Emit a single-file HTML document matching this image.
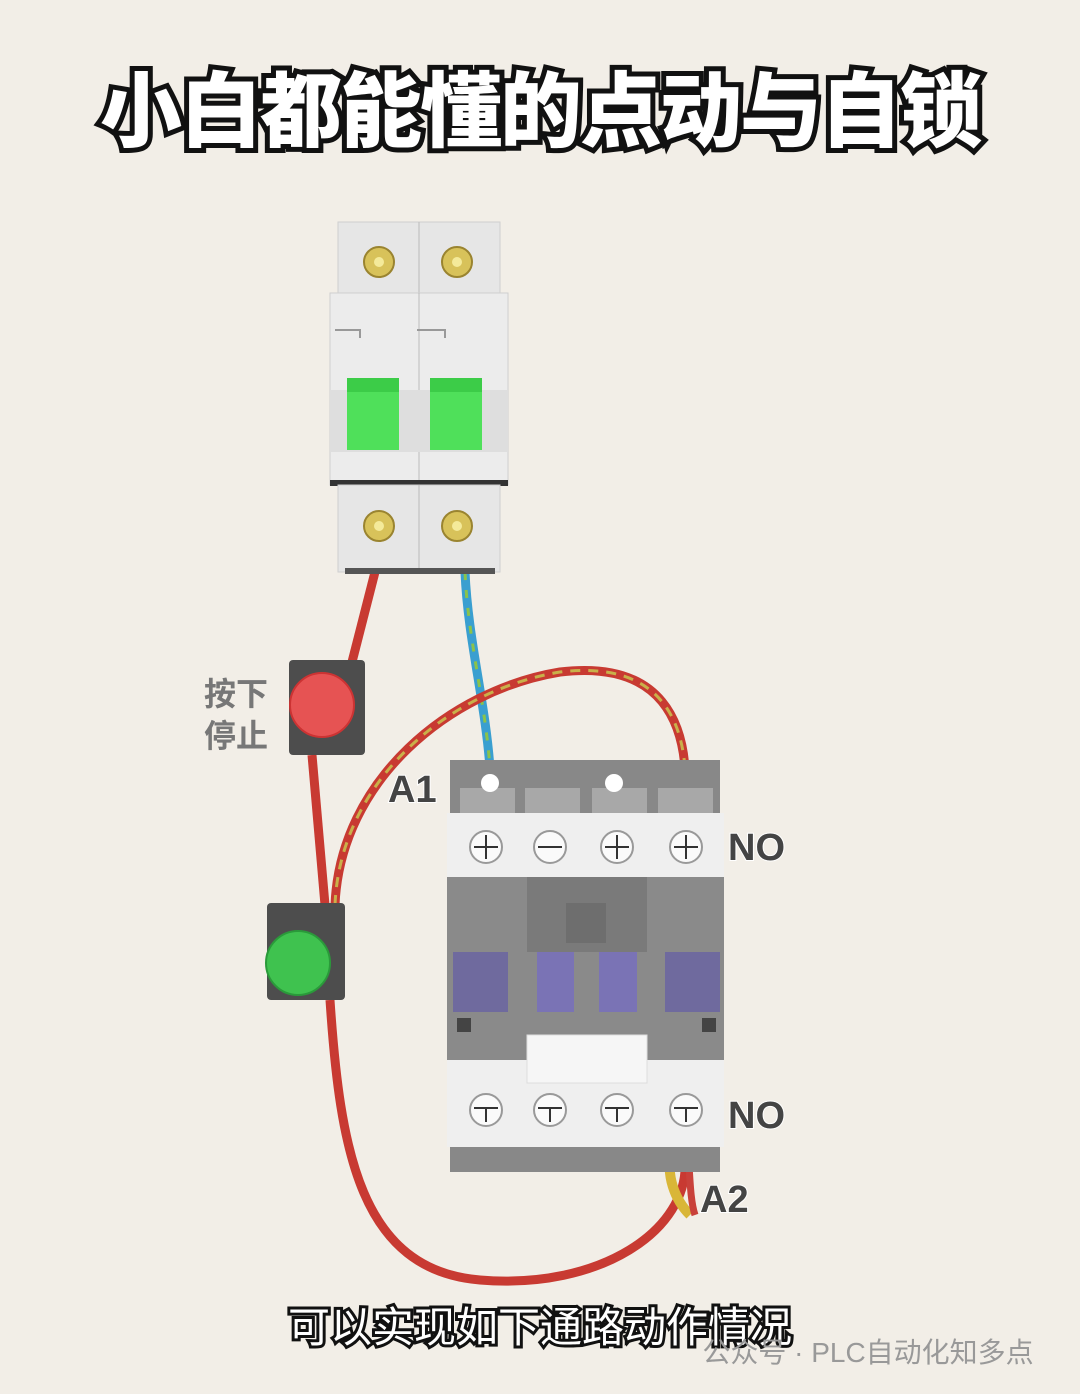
<!DOCTYPE html>
<html><head><meta charset="utf-8"><style>
html,body{margin:0;padding:0;background:#f2eee7;}
svg{display:block;}
text{font-family:"Liberation Sans","Noto Sans CJK SC",sans-serif;}
</style></head><body>
<svg width="1080" height="1394" viewBox="0 0 1080 1394" xmlns="http://www.w3.org/2000/svg">
<rect width="1080" height="1394" fill="#f2eee7"/>
<text x="540" y="140" text-anchor="middle" font-size="82" font-weight="900" fill="#fff" stroke="#111" stroke-width="10" paint-order="stroke" letter-spacing="-2">小白都能懂的点动与自锁</text>

<path d="M375 572 L352 662" stroke="#c83a32" stroke-width="9" fill="none"/>
<path d="M465 572 C468 640 485 700 490 768" stroke="#3a9fd0" stroke-width="9" fill="none"/>
<path d="M465 572 C468 640 485 700 490 768" stroke="#8bc34a" stroke-width="3" stroke-dasharray="8 10" fill="none"/>
<path d="M312 755 L325 905" stroke="#c83a32" stroke-width="9" fill="none"/>
<path d="M330 1000 C340 1150 360 1270 480 1280 C600 1290 690 1230 685 1160" stroke="#c83a32" stroke-width="9" fill="none"/>
<path d="M335 905 C340 780 450 690 560 672 C660 660 690 720 685 800" stroke="#c83a32" stroke-width="9" fill="none"/>
<path d="M335 905 C340 780 450 690 560 672 C660 660 690 720 685 800" stroke="#c9b04a" stroke-width="3" stroke-dasharray="10 8" fill="none"/>
<path d="M672 1150 C665 1175 675 1200 690 1215" stroke="#d9b638" stroke-width="10" fill="none"/>
<path d="M688 1150 C690 1175 690 1200 695 1215" stroke="#c9413a" stroke-width="7" fill="none"/>

<rect x="338" y="222" width="162" height="75" fill="#e6e6e6" stroke="#cfcfcf"/>
<line x1="419" y1="222" x2="419" y2="297" stroke="#bbb"/>
<rect x="330" y="293" width="178" height="192" fill="#ececec" stroke="#cfcfcf"/>
<line x1="419" y1="293" x2="419" y2="485" stroke="#bbb"/>
<rect x="330" y="390" width="178" height="62" fill="#dedede"/>
<path d="M335 330 H360 V338" stroke="#999" fill="none" stroke-width="2"/>
<path d="M417 330 H445 V338" stroke="#999" fill="none" stroke-width="2"/>
<rect x="347" y="378" width="52" height="72" fill="#4fe05a"/>
<rect x="347" y="378" width="52" height="14" fill="#3ccc48"/>
<rect x="430" y="378" width="52" height="72" fill="#4fe05a"/>
<rect x="430" y="378" width="52" height="14" fill="#3ccc48"/>
<rect x="330" y="480" width="178" height="6" fill="#333"/>
<rect x="338" y="485" width="162" height="87" fill="#e6e6e6" stroke="#cfcfcf"/>
<line x1="419" y1="485" x2="419" y2="572" stroke="#bbb"/>
<rect x="345" y="568" width="150" height="6" fill="#555"/>
<g fill="#d8c25a" stroke="#9a8430" stroke-width="2">
<circle cx="379" cy="262" r="15"/><circle cx="457" cy="262" r="15"/>
<circle cx="379" cy="526" r="15"/><circle cx="457" cy="526" r="15"/></g>
<g fill="#f4ea9a"><circle cx="379" cy="262" r="5"/><circle cx="457" cy="262" r="5"/><circle cx="379" cy="526" r="5"/><circle cx="457" cy="526" r="5"/></g>

<rect x="289" y="660" width="76" height="95" rx="4" fill="#4d4d4d"/>
<circle cx="322" cy="705" r="32" fill="#e65353" stroke="#c33" stroke-width="2"/>
<rect x="267" y="903" width="78" height="97" rx="4" fill="#4d4d4d"/>
<circle cx="298" cy="963" r="32" fill="#3fc24f" stroke="#2a9a3a" stroke-width="2"/>
<text x="236" y="705" text-anchor="middle" font-size="32" font-weight="bold" fill="#777">按下</text>
<text x="236" y="747" text-anchor="middle" font-size="32" font-weight="bold" fill="#777">停止</text>

<rect x="450" y="760" width="270" height="55" fill="#888"/>
<rect x="460" y="788" width="55" height="27" fill="#a8a8a8"/><rect x="525" y="788" width="55" height="27" fill="#a8a8a8"/>
<rect x="592" y="788" width="55" height="27" fill="#a8a8a8"/><rect x="658" y="788" width="55" height="27" fill="#a8a8a8"/>
<circle cx="490" cy="783" r="9" fill="#fff"/><circle cx="614" cy="783" r="9" fill="#fff"/>
<rect x="447" y="813" width="277" height="64" fill="#efefef"/>
<rect x="447" y="877" width="277" height="183" fill="#8a8a8a"/>
<rect x="527" y="877" width="120" height="75" fill="#7a7a7a"/>
<rect x="566" y="903" width="40" height="40" fill="#6e6e6e"/>
<rect x="453" y="952" width="55" height="60" fill="#6f6a9e"/>
<rect x="537" y="952" width="100" height="60" fill="#7a73b5"/>
<rect x="574" y="952" width="25" height="60" fill="#8a8a8a"/>
<rect x="665" y="952" width="55" height="60" fill="#6f6a9e"/>
<rect x="457" y="1018" width="14" height="14" fill="#444"/><rect x="702" y="1018" width="14" height="14" fill="#444"/>
<rect x="447" y="1060" width="277" height="87" fill="#efefef"/>
<rect x="527" y="1035" width="120" height="48" fill="#f6f6f6" stroke="#ddd"/>
<rect x="450" y="1147" width="270" height="25" fill="#888"/>
<g fill="#fafafa" stroke="#999" stroke-width="2">
<circle cx="486" cy="847" r="16"/><circle cx="550" cy="847" r="16"/><circle cx="617" cy="847" r="16"/><circle cx="686" cy="847" r="16"/>
<circle cx="486" cy="1110" r="16"/><circle cx="550" cy="1110" r="16"/><circle cx="617" cy="1110" r="16"/><circle cx="686" cy="1110" r="16"/></g>
<g stroke="#333" stroke-width="2">
<path d="M474 847h24M486 835v24M538 847h24M605 847h24M617 835v24M674 847h24M686 835v24"/>
<path d="M474 1108h24M486 1108v14M538 1108h24M550 1108v14M605 1108h24M617 1108v14M674 1108h24M686 1108v14"/></g>

<g font-weight="bold" fill="#444" font-size="38" stroke="#fff" stroke-width="2" paint-order="stroke">
<text x="388" y="802">A1</text>
<text x="728" y="860">NO</text>
<text x="728" y="1128">NO</text>
<text x="700" y="1212">A2</text></g>

<text x="540" y="1342" text-anchor="middle" font-size="42" fill="#fff" stroke="#111" stroke-width="6" paint-order="stroke">可以实现如下通路动作情况</text>
<text x="868" y="1362" text-anchor="middle" font-size="28" fill="#999">公众号 · PLC自动化知多点</text>
</svg>
</body></html>
